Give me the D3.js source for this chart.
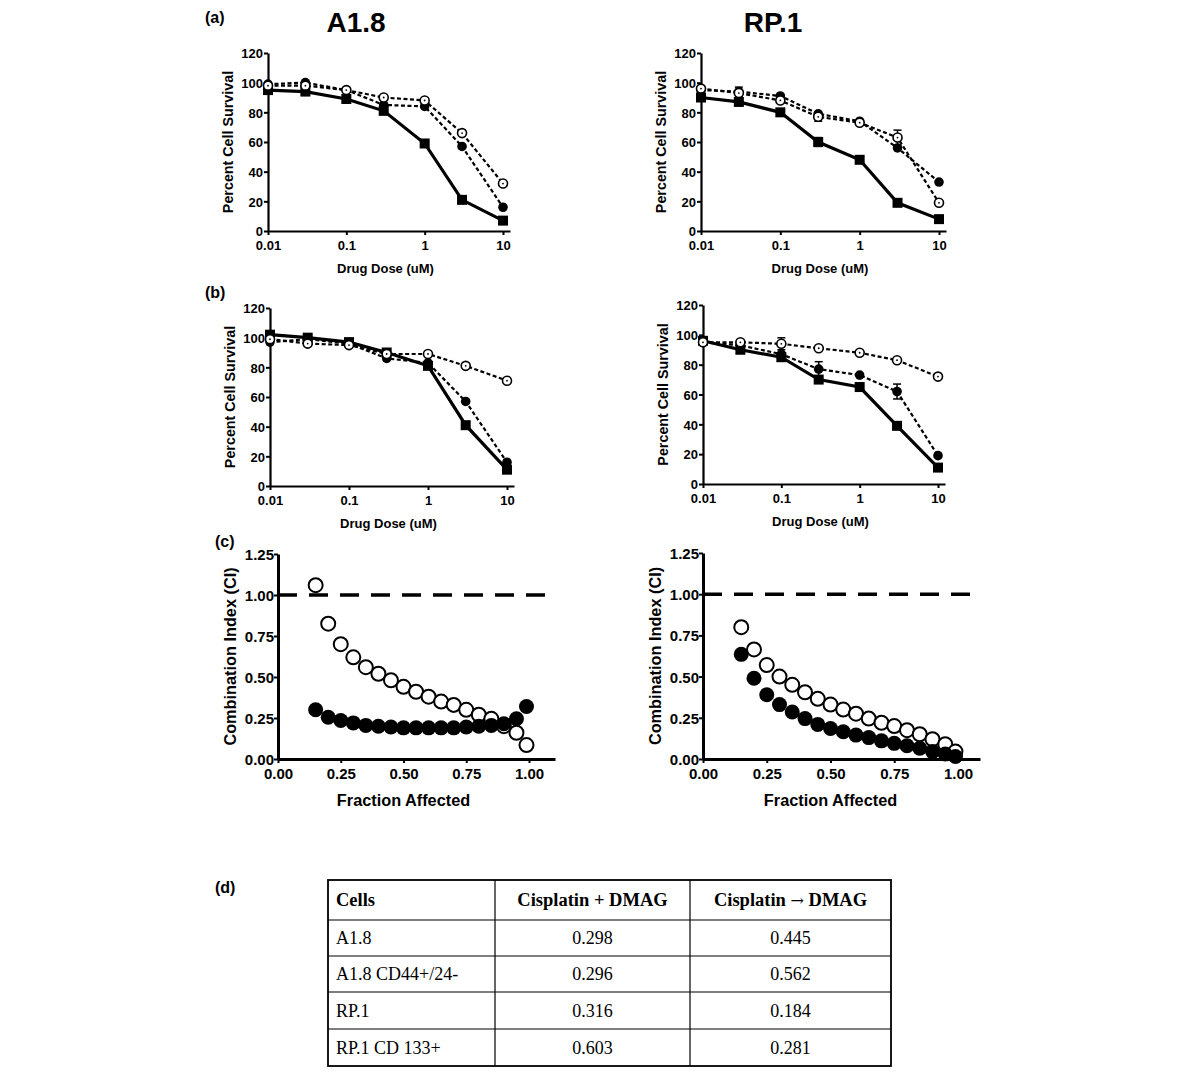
<!DOCTYPE html>
<html><head><meta charset="utf-8">
<script src="https://cdn.jsdelivr.net/npm/d3@7"></script>
<style>
body{margin:0;background:#fff;}
</style></head>
<body>
<svg id="c" width="1200" height="1072" font-family="'Liberation Sans', Arial, sans-serif"></svg>
<script>
// ---------------- DATA ----------------
const doses = [0.01, 0.03, 0.1, 0.3, 1, 3, 10];
const doseTicks = [0.01, 0.1, 1, 10];
const doseTickLabels = ["0.01", "0.1", "1", "10"];
const survTicks = [0, 20, 40, 60, 80, 100, 120];

const aA18_square = [95, 94, 89, 81, 59, 21, 7];
const aA18_filled = [99, 100, 95, 85, 84, 57, 16];
const aA18_open   = [98, 98, 95, 90, 88, 66, 32];

const aRP1_square = [90, 87, 80, 60, 48, 19, 8];
const aRP1_filled = [95, 94, 91, 79, 74, 56, 33];
const aRP1_open   = [96, 93, 88, 77, 73, 63, 19];
const aRP1_square_err = [0, 0, 0, 3, 0, 0, 0];
const aRP1_filled_err = [0, 3, 0, 0, 0, 0, 0];
const aRP1_open_err   = [0, 0, 0, 3, 0, 5, 0];

const bA18_square = [102, 100, 97, 90, 81, 41, 11];
const bA18_filled = [97, 99, 96, 86, 83, 57, 16];
const bA18_open   = [99, 96, 95, 89, 89, 81, 71];

const bRP1_square = [96, 90, 85, 70, 65, 39, 11];
const bRP1_filled = [95, 93, 87, 77, 73, 62, 19];
const bRP1_open   = [95, 95, 94, 91, 88, 83, 72];
const bRP1_filled_err = [0, 0, 0, 5, 0, 5, 0];
const bRP1_open_err   = [0, 0, 4, 0, 0, 0, 0];

const fa = [0.15, 0.2, 0.25, 0.3, 0.35, 0.4, 0.45, 0.5, 0.55, 0.6, 0.65, 0.7, 0.75, 0.8, 0.85, 0.9, 0.95, 0.99];
const ciTicksY = [0, 0.25, 0.5, 0.75, 1.0, 1.25];
const ciTicksX = [0, 0.25, 0.5, 0.75, 1.0];
const cA18_open   = [1.06, 0.825, 0.70, 0.62, 0.56, 0.52, 0.48, 0.44, 0.41, 0.38, 0.35, 0.33, 0.30, 0.27, 0.245, 0.20, 0.16, 0.085];
const cA18_filled = [0.30, 0.255, 0.235, 0.22, 0.205, 0.20, 0.195, 0.19, 0.19, 0.19, 0.19, 0.19, 0.195, 0.20, 0.205, 0.215, 0.245, 0.32];
const cRP1_open   = [0.80, 0.665, 0.57, 0.50, 0.45, 0.405, 0.365, 0.33, 0.30, 0.275, 0.245, 0.22, 0.20, 0.175, 0.15, 0.12, 0.09, 0.045];
const cRP1_filled = [0.635, 0.49, 0.39, 0.33, 0.285, 0.245, 0.21, 0.185, 0.165, 0.145, 0.13, 0.11, 0.095, 0.08, 0.065, 0.045, 0.03, 0.015];

const tableHeader = [["Cells"], ["Cisplatin + DMAG"], ["Cisplatin ", "\u2192", " DMAG"]];
const tableCells = ["A1.8", "A1.8 CD44+/24-", "RP.1", "RP.1 CD 133+"];
const tableSimul = ["0.298", "0.296", "0.316", "0.603"];
const tableSeq = ["0.445", "0.562", "0.184", "0.281"];

// ---------------- DRAW ----------------
const svg = d3.select("#c");
const sans = "'Liberation Sans', Arial, sans-serif";

function styleAxis(g, size) {
  g.attr("font-family", sans);
  g.selectAll("path.domain").attr("stroke", "#000").attr("stroke-width", 2.2);
  g.selectAll(".tick line").attr("stroke", "#000").attr("stroke-width", 2);
  g.selectAll(".tick text").attr("fill", "#000").attr("font-size", size).attr("font-weight", "bold");
}

function dosePanel(cfg) {
  const {left, r10, top, bottom, series, ylabelX} = cfg;
  const x0 = d3.scaleLog().domain([0.01, 10]).range([left, r10]);
  const xEnd = x0.invert(r10 + 7);
  const x = d3.scaleLog().domain([0.01, xEnd]).range([left, r10 + 7]);
  const y = d3.scaleLinear().domain([0, 120]).range([bottom, top]);
  const g = svg.append("g");

  const xa = g.append("g").attr("transform", `translate(0,${bottom})`)
    .call(d3.axisBottom(x).tickValues(doseTicks).tickFormat((d, i) => doseTickLabels[i]).tickSize(4).tickSizeOuter(0).tickPadding(6));
  styleAxis(xa, 13);
  const ya = g.append("g").attr("transform", `translate(${left},0)`)
    .call(d3.axisLeft(y).tickValues(survTicks).tickSize(4).tickSizeOuter(0).tickPadding(1));
  styleAxis(ya, 13);
  ya.selectAll(".tick text").attr("dy", "0.36em");

  g.append("text").attr("x", (left + r10) / 2).attr("y", bottom + 42).attr("text-anchor", "middle")
    .attr("font-size", 13).attr("font-weight", "bold").text("Drug Dose (uM)");
  g.append("text").attr("transform", `translate(${ylabelX},${(top + bottom) / 2}) rotate(-90)`)
    .attr("text-anchor", "middle").attr("font-size", 14.3).attr("font-weight", "bold").text("Percent Cell Survival");

  const line = d3.line().x((d, i) => x(doses[i])).y(d => y(d));
  series.forEach(s => {
    g.append("path").datum(s.values).attr("d", line).attr("fill", "none").attr("stroke", "#000")
      .attr("stroke-width", s.type === "square" ? 3.2 : 2.2)
      .attr("stroke-dasharray", s.type === "square" ? null : "4,2.5");
  });
  series.forEach(s => {
    if (s.err) {
      s.values.forEach((v, i) => {
        const e = s.err[i];
        if (!e) return;
        const cx = x(doses[i]);
        g.append("line").attr("x1", cx).attr("x2", cx).attr("y1", y(v - e)).attr("y2", y(v + e)).attr("stroke", "#000").attr("stroke-width", 1.5);
        [v - e, v + e].forEach(t => g.append("line").attr("x1", cx - 4).attr("x2", cx + 4).attr("y1", y(t)).attr("y2", y(t)).attr("stroke", "#000").attr("stroke-width", 1.5));
      });
    }
    s.values.forEach((v, i) => {
      const cx = x(doses[i]), cy = y(v);
      if (s.type === "square") {
        g.append("rect").attr("x", cx - 5).attr("y", cy - 5).attr("width", 10).attr("height", 10).attr("fill", "#000");
      } else if (s.type === "filled") {
        g.append("circle").attr("cx", cx).attr("cy", cy).attr("r", 4.8).attr("fill", "#000");
      } else {
        g.append("circle").attr("cx", cx).attr("cy", cy).attr("r", 4.5).attr("fill", "#fff").attr("stroke", "#000").attr("stroke-width", 1.6);
        g.append("circle").attr("cx", cx).attr("cy", cy).attr("r", 0.9).attr("fill", "#000");
      }
    });
  });
}

function ciPanel(cfg) {
  const {left, r1, top, bottom, open, filled, ylabelX} = cfg;
  const x = d3.scaleLinear().domain([0, 1]).range([left, r1]);
  const xEnd = x.invert(cfg.rightEnd);
  x.domain([0, xEnd]).range([left, cfg.rightEnd]);
  const y = d3.scaleLinear().domain([0, 1.25]).range([bottom, top]);
  const g = svg.append("g");
  const xa = g.append("g").attr("transform", `translate(0,${bottom})`)
    .call(d3.axisBottom(x).tickValues(ciTicksX).tickFormat(d3.format(".2f")).tickSize(4).tickSizeOuter(0).tickPadding(5));
  styleAxis(xa, 15);
  xa.selectAll("path.domain").attr("stroke-width", 3);
  const ya = g.append("g").attr("transform", `translate(${left},0)`)
    .call(d3.axisLeft(y).tickValues(ciTicksY).tickFormat(d3.format(".2f")).tickSize(4).tickSizeOuter(0).tickPadding(0));
  styleAxis(ya, 15);
  ya.selectAll("path.domain").attr("stroke-width", 3);
  ya.selectAll(".tick text").attr("dy", "0.36em");

  g.append("line").attr("x1", left).attr("x2", cfg.rightEnd).attr("y1", y(1)).attr("y2", y(1))
    .attr("stroke", "#000").attr("stroke-width", 3.5).attr("stroke-dasharray", "19,12");

  g.append("text").attr("x", x(0.5)).attr("y", bottom + 47).attr("text-anchor", "middle")
    .attr("font-size", 16.3).attr("font-weight", "bold").text("Fraction Affected");
  g.append("text").attr("transform", `translate(${ylabelX},${(top + bottom) / 2}) rotate(-90)`)
    .attr("text-anchor", "middle").attr("font-size", 16.3).attr("font-weight", "bold").text("Combination Index (CI)");

  open.forEach((v, i) => g.append("circle").attr("cx", x(fa[i])).attr("cy", y(v)).attr("r", 7)
    .attr("fill", "#fff").attr("stroke", "#000").attr("stroke-width", 2));
  filled.forEach((v, i) => g.append("circle").attr("cx", x(fa[i])).attr("cy", y(v)).attr("r", 7.5).attr("fill", "#000"));
}

// panel letters and titles
const letters = [["(a)", 205, 23], ["(b)", 205, 298], ["(c)", 215, 547], ["(d)", 215, 893]];
letters.forEach(([t, x, y]) => svg.append("text").attr("x", x).attr("y", y).attr("font-size", 16).attr("font-weight", "bold").text(t));
svg.append("text").attr("x", 356).attr("y", 32).attr("text-anchor", "middle").attr("font-size", 28).attr("font-weight", "bold").text("A1.8");
svg.append("text").attr("x", 773).attr("y", 32).attr("text-anchor", "middle").attr("font-size", 28).attr("font-weight", "bold").text("RP.1");

dosePanel({left: 268, r10: 503, top: 53, bottom: 231, ylabelX: 233,
  series: [{type: "square", values: aA18_square}, {type: "filled", values: aA18_filled}, {type: "open", values: aA18_open}]});
dosePanel({left: 701, r10: 939, top: 53, bottom: 231, ylabelX: 666,
  series: [{type: "square", values: aRP1_square, err: aRP1_square_err}, {type: "filled", values: aRP1_filled, err: aRP1_filled_err}, {type: "open", values: aRP1_open, err: aRP1_open_err}]});
dosePanel({left: 270, r10: 507, top: 308, bottom: 486, ylabelX: 235,
  series: [{type: "square", values: bA18_square}, {type: "filled", values: bA18_filled}, {type: "open", values: bA18_open}]});
dosePanel({left: 703, r10: 938, top: 305, bottom: 484, ylabelX: 668,
  series: [{type: "square", values: bRP1_square}, {type: "filled", values: bRP1_filled, err: bRP1_filled_err}, {type: "open", values: bRP1_open, err: bRP1_open_err}]});

ciPanel({left: 278, r1: 529, rightEnd: 555, top: 554, bottom: 759, ylabelX: 236, open: cA18_open, filled: cA18_filled});
ciPanel({left: 703, r1: 958, rightEnd: 980, top: 553, bottom: 759, ylabelX: 661, open: cRP1_open, filled: cRP1_filled});

// table (d)
const tbl = svg.append("g");
const colX = [328, 495, 690, 891];
const rowY = [880, 920, 956, 992, 1029, 1066];
tbl.append("rect").attr("x", colX[0]).attr("y", rowY[0]).attr("width", colX[3] - colX[0]).attr("height", rowY[5] - rowY[0])
  .attr("fill", "none").attr("stroke", "#000").attr("stroke-width", 1.8);
rowY.slice(1, 5).forEach(yy => tbl.append("line").attr("x1", colX[0]).attr("x2", colX[3]).attr("y1", yy).attr("y2", yy).attr("stroke", "#000").attr("stroke-width", 1.2));
colX.slice(1, 3).forEach(xx => tbl.append("line").attr("x1", xx).attr("x2", xx).attr("y1", rowY[0]).attr("y2", rowY[5]).attr("stroke", "#000").attr("stroke-width", 1.2));
const serif = "'Liberation Serif','Times New Roman',serif";
tbl.attr("font-family", serif);
tableHeader.forEach((parts, j) => {
  const t = tbl.append("text").attr("x", j === 0 ? colX[0] + 8 : (colX[j] + colX[j + 1]) / 2).attr("y", (rowY[0] + rowY[1]) / 2 + 6)
    .attr("text-anchor", j === 0 ? "start" : "middle").attr("font-weight", "bold").attr("font-size", 18.5);
  parts.forEach(p => {
    const ts = t.append("tspan").text(p);
    if (p === "\u2192") ts.attr("font-family", "'DejaVu Serif', serif").attr("font-weight", "normal").attr("font-size", 16);
  });
});
tableCells.forEach((c, i) => {
  const yy = (rowY[i + 1] + rowY[i + 2]) / 2 + 6;
  tbl.append("text").attr("x", colX[0] + 8).attr("y", yy).attr("font-size", 18).text(c);
  tbl.append("text").attr("x", (colX[1] + colX[2]) / 2).attr("y", yy).attr("text-anchor", "middle").attr("font-size", 18).text(tableSimul[i]);
  tbl.append("text").attr("x", (colX[2] + colX[3]) / 2).attr("y", yy).attr("text-anchor", "middle").attr("font-size", 18).text(tableSeq[i]);
});
</script>
</body></html>
